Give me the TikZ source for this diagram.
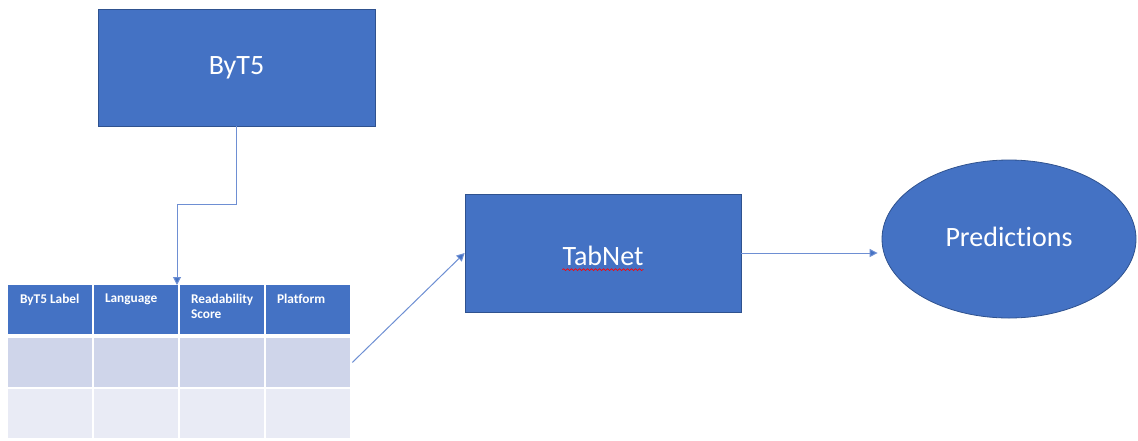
\documentclass[tikz,border=0pt]{standalone}
\usepackage{fontspec}
\setmainfont[Ligatures=NoCommon]{Carlito}
\usetikzlibrary{arrows.meta,shapes.geometric,decorations.pathmorphing}

\definecolor{boxblue}{HTML}{4472C4}
\definecolor{edgeblue}{HTML}{2F528F}
\definecolor{lineblue}{HTML}{6E8FD3}
\definecolor{rowdark}{HTML}{CFD5EA}
\definecolor{rowlight}{HTML}{E9EBF5}

\tikzset{
    block/.style={rectangle, fill=boxblue, draw=edgeblue, line width=0.6pt,
        inner sep=0pt, text=white, font=\fontsize{21}{25}\selectfont},
    oval/.style={ellipse, fill=boxblue, draw=edgeblue, line width=0.6pt,
        inner sep=0pt, text=white, font=\fontsize{21}{25}\selectfont},
    cell/.style={rectangle, inner sep=0pt, minimum width=63pt, minimum height=36.75pt},
    headtext/.style={inner sep=0pt, text=white, align=left,
        font=\fontsize{10}{11}\selectfont\bfseries},
    conn/.style={draw=lineblue, line width=0.75pt,
        -{Triangle[length=6pt,width=6pt,fill=boxblue]}}
}

\begin{document}
\begin{tikzpicture}[x=0.75pt,y=-0.75pt]
    \useasboundingbox (0,0) rectangle (1138,440);

    % models
    \node[block, minimum width=207.75pt, minimum height=87.75pt] (byt5) at (236.5,67.5) {ByT5};
    \node[block, minimum width=207pt, minimum height=88.5pt] (tabnet) at (603,253) {};
    \node[text=white, inner sep=0pt, font=\fontsize{21}{25}\selectfont] (tabnettext) at (603,256) {TabNet};
    \draw[red, line width=0.5pt, decorate, decoration={snake, amplitude=0.7pt, segment length=3pt}]
        ([yshift=-3pt]tabnettext.base west) -- ([yshift=-3pt]tabnettext.base east);
    \node[oval, minimum width=190.5pt, minimum height=118.5pt] (pred) at (1009,239) {\raisebox{3pt}{Predictions}};

    % table
    \foreach \c in {1,...,4} {
        \node[cell, fill=boxblue] (h\c) at ({50+86*(\c-1)},309.5) {};
        \node[cell, fill=rowdark] (a\c) at ({50+86*(\c-1)},362.5) {};
        \node[cell, fill=rowlight] (b\c) at ({50+86*(\c-1)},413.5) {};
    }
    \node[headtext, anchor=north west] (t1) at ([shift={(12,9)}]h1.north west) {ByT5 Label};
    \node[headtext, anchor=north west] (t2) at ([shift={(11,9)}]h2.north west) {Language};
    \node[headtext, anchor=north west] (t3) at ([shift={(11,9)}]h3.north west) {Readability\\Score};
    \node[headtext, anchor=north west] (t4) at ([shift={(11,9)}]h4.north west) {Platform};

    % arrows
    \coordinate (drop) at (177,285);
    \draw[conn] (byt5.south) -- ++(0,78) -| (drop);
    \draw[conn] ([xshift=1.5pt]a4.east) -- (tabnet.west);
    \draw[conn] (tabnet.east) -- ([xshift=-3pt]tabnet.east -| pred.west);
\end{tikzpicture}
\end{document}
